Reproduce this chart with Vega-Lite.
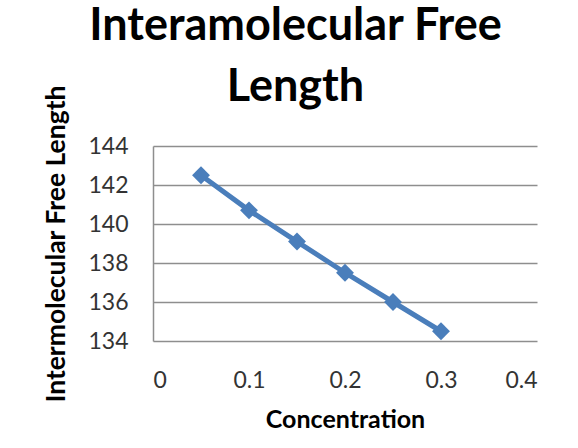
{
  "$schema": "https://vega.github.io/schema/vega-lite/v6.json",
  "width": 384,
  "height": 195,
  "autosize": "none",
  "padding": {"left": 153, "top": 146, "right": 41, "bottom": 107},
  "background": "white",
  "title": {
    "text": ["Interamolecular Free", "Length"],
    "font": "Lato",
    "fontSize": 45,
    "fontWeight": "bold",
    "color": "#000000",
    "lineHeight": 61,
    "anchor": "middle",
    "frame": "bounds",
    "baseline": "alphabetic",
    "offset": -61,
    "dx": 5
  },
  "data": {
    "values": [
      {"concentration": 0.05, "free_length": 142.5},
      {"concentration": 0.10, "free_length": 140.7},
      {"concentration": 0.15, "free_length": 139.1},
      {"concentration": 0.20, "free_length": 137.5},
      {"concentration": 0.25, "free_length": 136.0},
      {"concentration": 0.30, "free_length": 134.5}
    ]
  },
  "mark": {
    "type": "line",
    "color": "#4A7EBB",
    "strokeWidth": 5,
    "point": {"filled": true, "shape": "diamond", "size": 320, "color": "#4A7EBB", "opacity": 1}
  },
  "encoding": {
    "x": {
      "field": "concentration",
      "type": "quantitative",
      "scale": {"domain": [0, 0.4], "nice": false, "zero": false},
      "axis": {
        "title": "Concentration",
        "values": [0, 0.1, 0.2, 0.3, 0.4],
        "format": "~g",
        "grid": false,
        "domain": false,
        "ticks": false,
        "labelPadding": 28,
        "titlePadding": 15
      }
    },
    "y": {
      "field": "free_length",
      "type": "quantitative",
      "scale": {"domain": [134, 144], "nice": false, "zero": false},
      "axis": {
        "title": "Intermolecular Free Length",
        "values": [134, 136, 138, 140, 142, 144],
        "grid": true,
        "domain": true,
        "ticks": false,
        "labelPadding": 25,
        "titlePadding": 17,
        "titleFontSize": 26.5
      }
    }
  },
  "config": {
    "view": {"stroke": null},
    "axis": {
      "labelFont": "Lato",
      "labelFontSize": 23,
      "labelColor": "#333333",
      "titleFont": "Lato",
      "titleFontSize": 25,
      "titleFontWeight": "bold",
      "titleColor": "#000000",
      "gridColor": "#8E8E8E",
      "gridWidth": 1.5,
      "gridOpacity": 1,
      "domainColor": "#8E8E8E",
      "domainWidth": 1.5
    }
  }
}
